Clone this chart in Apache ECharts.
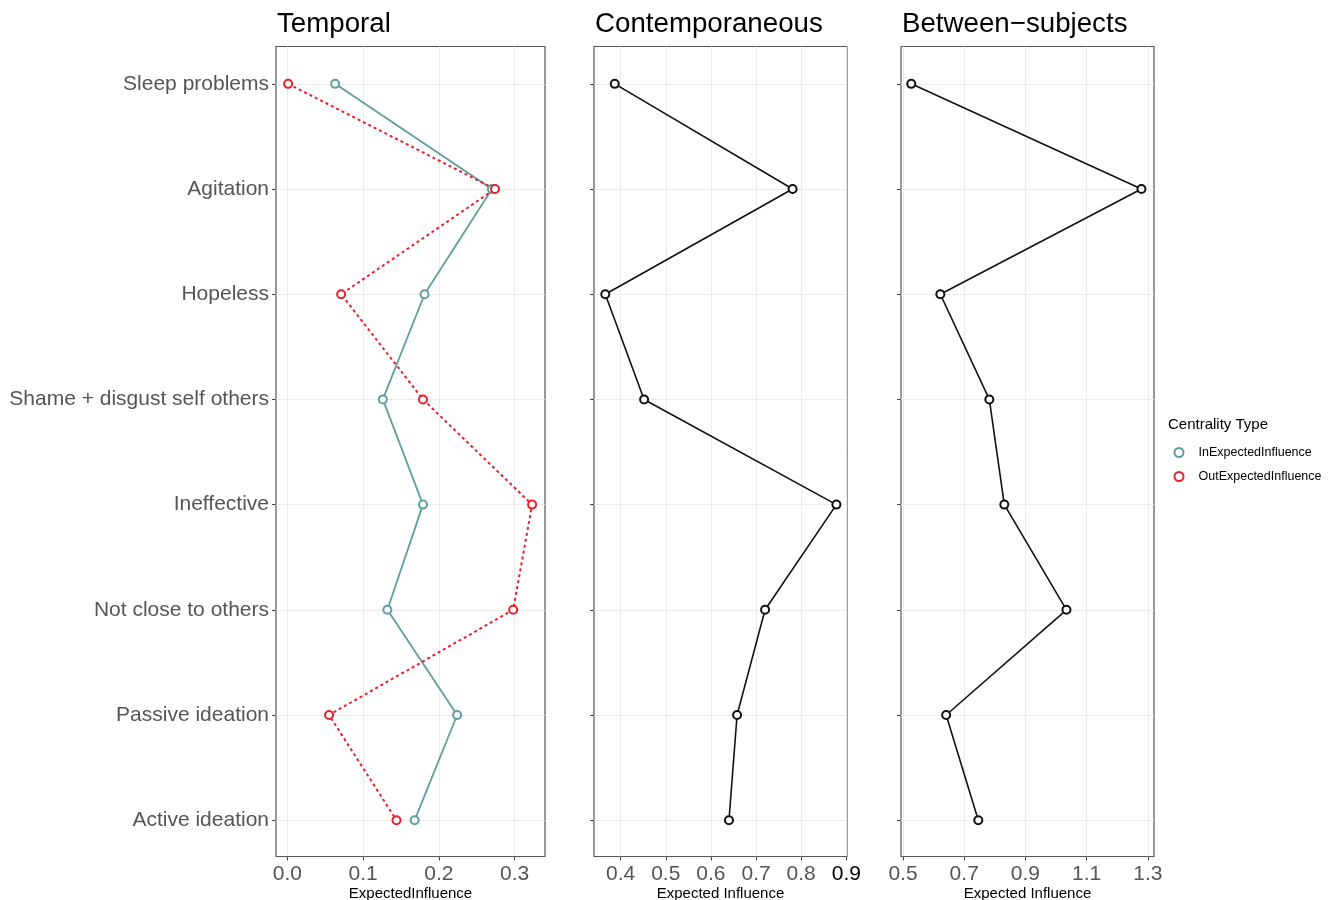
<!DOCTYPE html>
<html>
<head>
<meta charset="utf-8">
<script src="https://cdn.jsdelivr.net/npm/echarts@6/dist/echarts.min.js"></script>
<style>html,body{margin:0;padding:0;background:#fff}#c{width:1335px;height:900px}</style>
</head>
<body>
<div id="c"></div>
<script>
const categories = ['Sleep problems','Agitation','Hopeless','Shame + disgust self others','Ineffective','Not close to others','Passive ideation','Active ideation'];
const temporalIn  = [0.063, 0.270, 0.181, 0.126, 0.179, 0.132, 0.224, 0.168];
const temporalOut = [0.001, 0.274, 0.071, 0.179, 0.323, 0.298, 0.055, 0.144];
const contemporaneous = [0.387, 0.781, 0.366, 0.452, 0.878, 0.720, 0.658, 0.640];
const between = [0.527, 1.279, 0.622, 0.782, 0.831, 1.034, 0.641, 0.746];
const ticks1 = [0.0, 0.1, 0.2, 0.3];
const ticks2 = [0.4, 0.5, 0.6, 0.7, 0.8, 0.9];
const ticks3 = [0.5, 0.7, 0.9, 1.1, 1.3];
const titles = ['Temporal', 'Contemporaneous', 'Between\u2212subjects'];
const xNames = ['ExpectedInfluence', 'Expected Influence', 'Expected Influence'];
const legendTitle = 'Centrality Type';
const seriesNames = ['InExpectedInfluence', 'OutExpectedInfluence'];

const FONT = '"Liberation Sans", Arial, Helvetica, sans-serif';
const TEAL = '#5F9EA0', RED = '#E8202A';
const catIdx = categories.map((_, i) => i);
const toPts = arr => arr.map((v, i) => [v, i]);

const grids = [
  {left: 276, top: 46.5, width: 269, height: 810},
  {left: 594, top: 46.5, width: 253, height: 810},
  {left: 901, top: 46.5, width: 253, height: 810}
];
const xr = [[-0.015, 0.340, ticks1], [0.341, 0.9015, ticks2], [0.4935, 1.320, ticks3]];

const chart = echarts.init(document.getElementById('c'), null, {renderer: 'canvas'});
const option = {
  backgroundColor: '#fff',
  animation: false,
  textStyle: {fontFamily: FONT},
  title: titles.map((t, i) => ({
    text: t, left: grids[i].left + 1, top: 10, padding: 0,
    textStyle: {fontFamily: FONT, fontSize: 27.7, fontWeight: 'normal', color: '#000'}
  })).concat([{
    text: legendTitle, left: 1168, top: 417, padding: 0,
    textStyle: {fontFamily: FONT, fontSize: 15, fontWeight: 'normal', color: '#000'}
  }]),
  legend: {
    left: 1168.5, top: 441, orient: 'vertical', itemGap: 11,
    itemWidth: 9, itemHeight: 9,
    textStyle: {fontFamily: FONT, fontSize: 12.5, color: '#000', padding: [0, 0, 0, 10]},
    data: [
      {name: seriesNames[0], icon: 'circle', itemStyle: {color: '#fff', borderColor: TEAL, borderWidth: 2}},
      {name: seriesNames[1], icon: 'circle', itemStyle: {color: '#fff', borderColor: RED, borderWidth: 2}}
    ],
    selectedMode: false
  },
  grid: grids.map(g => Object.assign({show: true, borderColor: '#555', borderWidth: 1.2, backgroundColor: '#fff', containLabel: false, outerBoundsMode: 'none'}, g)),
  xAxis: xr.map((r, i) => ({
    type: 'value', gridIndex: i, min: r[0], max: r[1], position: 'bottom',
    name: xNames[i], nameLocation: 'middle', nameGap: 30, nameMoveOverlap: false,
    nameTextStyle: {fontFamily: FONT, fontSize: 15, color: '#000'},
    axisLine: {show: false, onZero: false},
    axisTick: {show: true, length: 4, customValues: r[2], lineStyle: {color: '#444'}},
    axisLabel: {
      customValues: r[2], margin: 7, fontFamily: FONT, fontSize: 21,
      formatter: v => Number(v).toFixed(1),
      color: (v) => (i === 1 && Math.abs(v - 0.9) < 1e-6) ? '#000' : '#555'
    },
    splitLine: {show: true, lineStyle: {color: '#ebebeb', width: 1}},
    minorSplitLine: {show: false}
  })),
  yAxis: [0, 1, 2].map(i => ({
    type: 'value', gridIndex: i, inverse: true, min: -0.355, max: 7.345, position: 'left',
    axisLine: {show: false, onZero: false},
    axisTick: {show: true, length: 4, customValues: catIdx, lineStyle: {color: '#444'}},
    axisLabel: {
      show: i === 0, customValues: catIdx, margin: 7, fontFamily: FONT, fontSize: 21, color: '#555',
      formatter: v => categories[Math.round(v)] || ''
    },
    splitLine: {show: true, lineStyle: {color: '#ebebeb', width: 1}}
  })),
  series: [
    {name: seriesNames[0], type: 'line', xAxisIndex: 0, yAxisIndex: 0, data: toPts(temporalIn),
     symbol: 'emptyCircle', symbolSize: 8, lineStyle: {color: TEAL, width: 1.8},
     itemStyle: {color: TEAL, borderColor: TEAL, borderWidth: 2}},
    {name: seriesNames[1], type: 'line', xAxisIndex: 0, yAxisIndex: 0, data: toPts(temporalOut),
     symbol: 'emptyCircle', symbolSize: 8, lineStyle: {color: RED, width: 2, type: [3, 3]},
     itemStyle: {color: RED, borderColor: RED, borderWidth: 2}},
    {name: 'Contemporaneous', type: 'line', xAxisIndex: 1, yAxisIndex: 1, data: toPts(contemporaneous),
     symbol: 'emptyCircle', symbolSize: 8, lineStyle: {color: '#111', width: 1.6},
     itemStyle: {color: '#111', borderColor: '#111', borderWidth: 2}},
    {name: 'Between-subjects', type: 'line', xAxisIndex: 2, yAxisIndex: 2, data: toPts(between),
     symbol: 'emptyCircle', symbolSize: 8, lineStyle: {color: '#111', width: 1.6},
     itemStyle: {color: '#111', borderColor: '#111', borderWidth: 2}}
  ]
};
chart.setOption(option);
</script>
</body>
</html>
